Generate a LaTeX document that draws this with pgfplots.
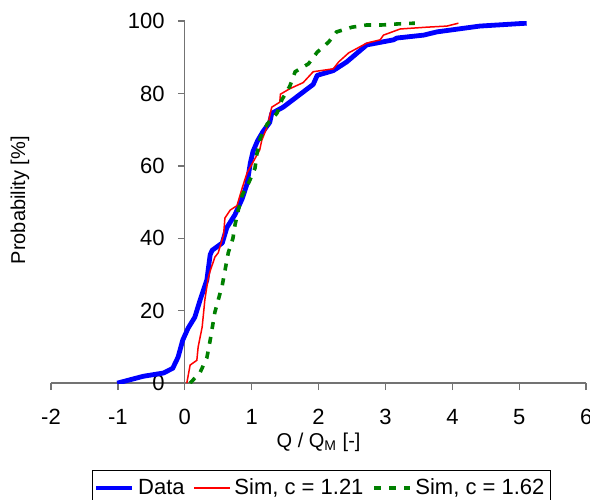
\documentclass[border=0pt]{standalone}
\usepackage{fontspec}
\setmainfont{Liberation Sans}
\usepackage{pgfplots}
\pgfplotsset{compat=1.18}
\definecolor{simgreen}{RGB}{0,128,0}

\begin{document}
\begin{tikzpicture}
\begin{axis}[
  scale only axis,
  width=267.5pt, height=181pt,
  xmin=-2, xmax=6, ymin=0, ymax=100,
  axis lines=middle,
  axis line style={-, black!55, line width=0.7pt},
  xtick={-2,-1,...,6},
  ytick={0,20,...,100},
  tick align=outside,
  major tick length=3.5pt,
  tick style={black!55, line width=0.7pt},
  /pgf/number format/assume math mode=true,
  tick label style={font=\fontsize{11}{13}\selectfont},
  x tick label style={yshift=-6pt},
  y tick label style={xshift=-3pt},
  hide obscured x ticks=false,
  hide obscured y ticks=false,
  xlabel={Q / Q\textsubscript{M} [-]},
  ylabel={Probability [\%]},
  label style={font=\fontsize{11}{13}\selectfont},
  every axis x label/.style={at={(rel axis cs:0.5,-0.162)},anchor=center},
  every axis y label/.style={at={(rel axis cs:-0.058,0.505)},rotate=90,anchor=center},
  legend columns=-1,
  legend style={at={(rel axis cs:0.505,-0.24)}, anchor=north,
    draw=black, font=\fontsize{11}{13}\selectfont,
    inner xsep=1pt,
    /tikz/every odd column/.append style={column sep=0pt},
    /tikz/every even column/.append style={column sep=2.5pt}},
  legend image code/.code={\draw[#1] (0cm,0cm) -- (0.62cm,0cm);},
]
\addplot[blue, line width=2.4pt, line join=round] coordinates {
(-1.01,0) (-0.62,1.9) (-0.32,2.8) (-0.18,4.1) (-0.10,7.2) (-0.03,11.9)
(0.05,15.2) (0.15,18.2) (0.23,23) (0.33,28.5) (0.38,35.5) (0.41,36.7)
(0.56,38.7) (0.63,43) (0.75,46.5) (0.86,51) (0.93,55) (0.98,60.8)
(1.02,64) (1.09,67) (1.17,69.5) (1.27,72) (1.30,74.5) (1.47,76.2)
(1.67,79) (1.92,82.5) (1.98,85) (2.22,86.3) (2.42,88.7) (2.72,93.4)
(3.12,94.8) (3.17,95.3) (3.57,96.1) (3.77,97) (4.41,98.6) (5.11,99.4)
};
\addlegendentry{Data}
\addplot[red, line width=0.75pt] coordinates {
(0.03,0) (0.08,5) (0.18,6.3) (0.2,10) (0.26,15.5) (0.3,23) (0.35,29)
(0.38,31) (0.45,34.8) (0.5,36) (0.58,41) (0.6,45.6) (0.68,47.8) (0.78,49)
(0.86,54) (0.93,58) (1.12,64.4) (1.15,67) (1.23,70.7) (1.30,76.2)
(1.42,77.6) (1.43,79.8) (1.57,81.3) (1.77,83) (1.92,86) (2.22,86.8)
(2.3,88.7) (2.45,91.2) (2.72,93.9) (2.92,94.8) (2.97,96.1) (3.22,97.8)
(3.62,98.3) (3.92,98.6) (4.09,99.4)
};
\addlegendentry{Sim, c = 1.21}
\addplot[simgreen, line width=1.8pt, dash pattern=on 3.5pt off 4pt] coordinates {
(0.08,0) (0.23,3) (0.33,7) (0.38,11.9) (0.45,19.6) (0.56,27) (0.65,36)
(0.72,40) (0.75,43.6) (0.8,47.8) (0.86,52) (0.96,55.5) (1.05,59.4)
(1.08,63.5) (1.13,67.7) (1.23,71.5) (1.38,74.6) (1.45,78.2) (1.57,82)
(1.65,86) (1.85,88.2) (1.98,91.4) (2.15,94.2) (2.27,97) (2.5,98.3)
(2.72,98.9) (2.94,98.9) (3.19,99.2) (3.44,99.4)
};
\addlegendentry{Sim, c = 1.62}
\coordinate (bl) at (axis cs:-2.762,-32.0);
\coordinate (tr) at (axis cs:6.057,105.8);
\end{axis}
\pgfresetboundingbox
\path[use as bounding box] (bl) rectangle (tr);
\end{tikzpicture}
\end{document}
